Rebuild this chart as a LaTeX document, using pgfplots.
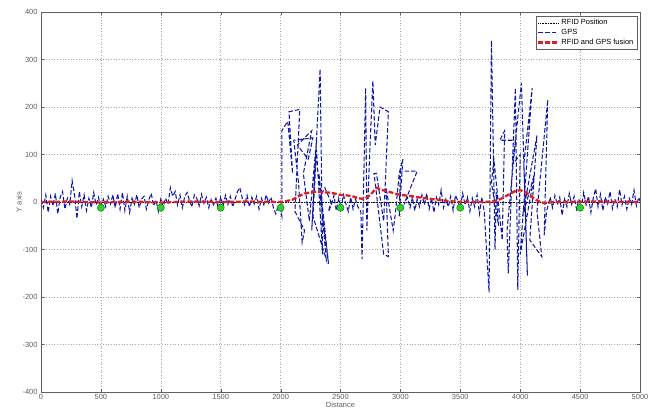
\documentclass[border=0pt]{standalone}
\usepackage{fontspec}
\setmainfont{Liberation Sans}
\usepackage{pgfplots}
\pgfplotsset{compat=1.18}
\definecolor{gpsblue}{RGB}{15,25,165}
\definecolor{fusred}{RGB}{225,30,30}
\definecolor{rfidgreen}{RGB}{45,210,45}
\definecolor{axgray}{RGB}{95,95,95}
\begin{document}
\begin{tikzpicture}[x=1bp,y=1bp]
\begin{axis}[
  name=ax,
  scale only axis,
  width=599bp, height=380bp,
  xmin=0, xmax=5000, ymin=-400, ymax=400,
  xtick={0,500,...,5000}, ytick={-400,-300,...,400},
  grid=major,
  major grid style={dash pattern=on 0.7pt off 2pt, gray!70, line width=0.6pt},
  axis line style={axgray, line width=0.7pt},
  tick style={axgray},
  tick align=inside,
  major tick length=3pt,
  tick label style={font=\fontsize{7.5}{8}\selectfont, text=axgray},
  xticklabel style={yshift=1pt},
  /pgf/number format/assume math mode=true,
  /pgf/number format/1000 sep={},
  xlabel={Distance}, ylabel={Y axis},
  label style={font=\fontsize{7.5}{8}\selectfont, text=axgray},
  xlabel style={yshift=5pt},
  ylabel style={yshift=-6pt},
  legend style={at={(0.995,0.99)}, anchor=north east, font=\fontsize{7.5}{8}\selectfont,
    draw=axgray, inner sep=1.5pt, row sep=-1pt, legend cell align=left},
  legend image code/.code={\draw[#1] (0cm,0cm) -- (0.7cm,0cm);},
  clip=true,
]
% RFID position
\addplot[black, dash pattern=on 0.6pt off 1pt, line width=0.6pt] coordinates {(0,0) (5000,0)};
\addlegendentry{RFID Position}
% GPS
\addplot[gpsblue, dash pattern=on 4.5pt off 2.2pt, line width=1.05pt] coordinates {
(0,5)(20,-12)(40,15)(60,-22)(80,12)(100,-8)(120,18)(140,-25)(160,10)(180,22)(200,-15)(220,8)(240,-5)(260,45)(280,15)(300,-35)(320,22)(340,-10)(360,15)(380,-18)(400,8)(420,-12)(440,20)(460,-6)(480,10)
(500,-14)(520,6)(540,-10)(560,12)(580,-4)(600,15)(620,-12)(640,18)(660,-15)(680,20)(700,-18)(720,12)(740,-22)(760,8)(780,-5)(800,15)(820,-12)(840,6)(860,12)(880,-15)(900,5)(920,18)(940,-8)(960,4)(980,-20)
(1000,6)(1020,-10)(1040,8)(1060,-5)(1080,30)(1100,12)(1120,22)(1140,-6)(1160,15)(1180,-12)(1200,12)(1220,20)(1240,2)(1260,-10)(1280,15)(1300,8)(1320,-8)(1340,16)(1360,-3)(1380,10)(1400,-12)(1420,5)(1440,-6)(1460,8)(1480,-14)
(1500,10)(1520,-8)(1540,14)(1560,-5)(1580,12)(1600,-10)(1620,6)(1640,22)(1660,30)(1680,8)(1700,-6)(1720,14)(1740,-10)(1760,10)(1780,-4)(1800,12)(1820,-15)(1840,8)(1860,-6)(1880,15)(1900,-2)(1920,10)(1940,-12)(1960,-25)(1980,-8)(2000,-20)
(2010,-30)(2010,150)(2060,170)(2100,60)(2070,190)(2160,195)(2120,-20)(2200,-60)(2180,-85)(2150,40)(2110,130)(2270,135)(2230,90)(2140,120)(2260,150)(2190,60)(2240,-40)(2300,130)(2260,-60)(2330,280)(2350,-110)(2300,110)(2270,-30)(2380,-120)(2320,60)(2400,-130)(2330,10)(2370,30)(2420,0)(2400,-20)
(2425,-5)(2445,14)(2465,-18)(2485,8)(2505,-12)(2525,15)(2545,-4)(2565,-20)(2585,10)(2605,-15)(2625,6)(2645,-10)
(2670,-20)(2680,-120)(2710,240)(2720,-60)(2740,80)(2770,255)(2790,120)(2830,200)(2900,190)(2860,-40)(2800,60)(2780,60)(2860,-110)(2900,-115)(2880,30)(2940,-60)(2960,-20)(2990,60)(3020,90)(2990,-30)(3000,65)(3140,65)(3030,-5)(3060,10)
(3080,-12)(3100,10)(3120,-18)(3140,6)(3160,-10)(3180,15)(3200,-6)(3220,18)(3240,-15)(3260,8)(3280,-22)(3300,10)(3320,-6)(3340,25)(3360,-12)(3380,6)(3400,-10)(3420,12)(3440,-18)(3460,14)(3480,2)(3500,-12)(3520,18)(3540,-6)(3560,10)(3580,-20)(3600,8)(3620,-10)(3640,15)(3660,-25)(3680,10)(3700,-20)
(3740,-190)(3760,340)(3790,-100)(3800,20)(3820,-50)(3760,40)(3780,90)(3850,-80)(3870,150)(3830,130)(3960,130)(3890,-60)(3900,-150)(3960,240)(3980,-185)(4000,100)(3940,80)(4010,250)(4060,-155)(4030,80)(4100,240)(4000,-110)(4120,60)(4020,-30)(4140,140)(4080,-80)(4180,-115)(4140,-20)(4230,215)(4200,-70)(4220,-20)(4250,10)
(4270,-12)(4290,14)(4310,-6)(4330,10)(4350,-28)(4370,6)(4390,-10)(4410,18)(4430,-5)(4450,12)(4470,-15)(4490,6)(4510,-12)(4530,20)(4550,-6)(4570,12)(4590,-22)(4610,8)(4630,28)(4650,-10)(4670,16)(4690,-18)(4710,10)(4730,-4)(4750,22)(4770,-14)(4790,6)(4810,-10)(4830,26)(4850,-6)(4870,12)(4890,-15)(4910,8)(4930,-5)(4950,25)(4970,-8)(4990,10)(5000,2)
};
\addlegendentry{GPS}
% fusion
\addplot[fusred, dash pattern=on 5pt off 2pt, line width=2.3pt] coordinates {
(0,0)(250,1)(500,-1)(750,1)(1000,-1)(1250,1)(1500,0)(1750,1)(2000,0)(2050,2)(2100,5)(2150,12)(2200,18)(2250,20)(2300,22)(2350,20)(2400,20)(2450,18)(2500,15)(2550,14)(2600,12)(2650,8)(2700,6)(2750,15)(2800,30)(2850,25)(2900,22)(2950,18)(3000,15)(3100,12)(3200,8)(3300,5)(3400,2)(3500,0)(3700,0)(3800,2)(3850,8)(3900,15)(3950,22)(4000,25)(4050,20)(4100,10)(4150,2)(4200,-2)(4300,0)(4600,1)(5000,0)
};
\addlegendentry{RFID and GPS fusion}
% RFID tags
\addplot[only marks, mark=*, mark size=3.6pt, mark options={solid, draw=green!45!black, fill=rfidgreen, line width=0.4pt}, forget plot] coordinates {
(500,-12)(1000,-12)(1500,-12)(2000,-12)(2500,-12)(3000,-12)(3500,-12)(4500,-12)
};
\end{axis}
\path (ax.south west) ++(-41bp,-22bp) (ax.north east) ++(18bp,12bp);
\end{tikzpicture}
\end{document}
